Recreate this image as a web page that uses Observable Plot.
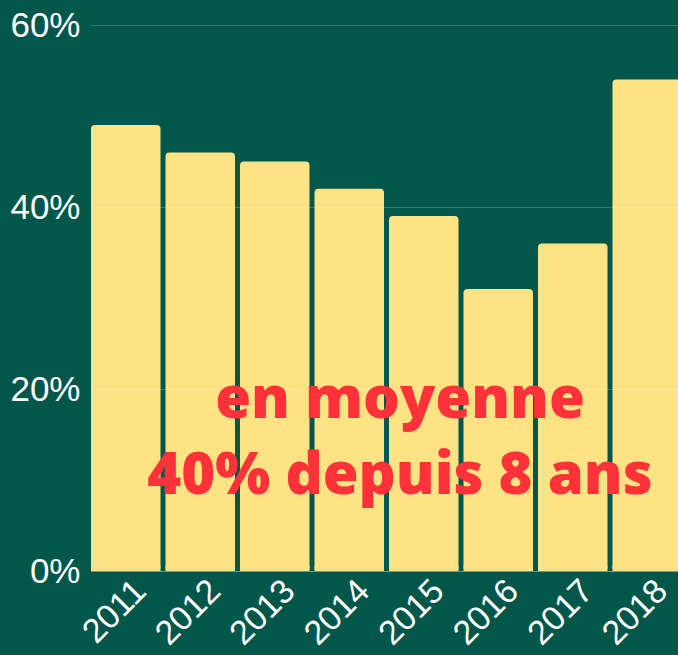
<!DOCTYPE html>
<html>
<head>
<meta charset="utf-8">
<script src="https://cdn.jsdelivr.net/npm/d3@7"></script>
<script src="https://cdn.jsdelivr.net/npm/@observablehq/plot@0.6"></script>
<style>
  html, body { margin: 0; padding: 0; background: #03564a; overflow: hidden; }
  #chart svg { display: block; }
</style>
</head>
<body>
<div id="chart"></div>
<script>
const years = ["2011", "2012", "2013", "2014", "2015", "2016", "2017", "2018"];
const shares = [49, 46, 45, 42, 39, 31, 36, 54];
const yTicks = [0, 20, 40, 60];
const noteLines = ["en moyenne", "40% depuis 8 ans"];

const data = years.map((year, i) => ({year, value: shares[i]}));
const barColor = "#fde384";

const chart = Plot.plot({
  width: 678,
  height: 655,
  marginTop: 25,
  marginBottom: 84,
  marginLeft: 91,
  marginRight: -4,
  style: {
    background: "#03564a",
    color: "#ffffff",
    fontFamily: "'Liberation Sans', Arial, sans-serif",
    overflow: "hidden"
  },
  x: {domain: years, paddingInner: 0.067, paddingOuter: 0, round: false, label: null},
  y: {domain: [0, 60], label: null},
  marks: [
    Plot.barY(data, {x: "year", y: "value", fill: barColor, rx: 4}),
    Plot.barY(data, {x: "year", y1: 0, y2: d => Math.min(d.value, 0.6), fill: barColor}),
    Plot.ruleY(yTicks.filter(d => d > 0), {stroke: "#ffffff", strokeOpacity: 0.2}),
    Plot.ruleY([0], {stroke: "#6f9a84", strokeWidth: 1}),
    Plot.axisY({ticks: yTicks, tickFormat: d => d + "%", tickSize: 0, tickPadding: 11, fontSize: 35, label: null, fill: "#ffffff"}),
    Plot.axisX({tickRotate: -45, tickSize: 0, tickPadding: 14, fontSize: 34, label: null, dx: 14, fill: "#ffffff"}),
    Plot.text([noteLines.join("\n")], {
      frameAnchor: "middle",
      dx: 13,
      dy: 133,
      fontSize: 58,
      fontWeight: 800,
      fill: "#ff323a",
      fontFamily: "'Open Sans', 'Noto Sans', sans-serif",
      lineHeight: 76 / 58
    })
  ]
});
document.getElementById("chart").append(chart);
</script>
</body>
</html>
